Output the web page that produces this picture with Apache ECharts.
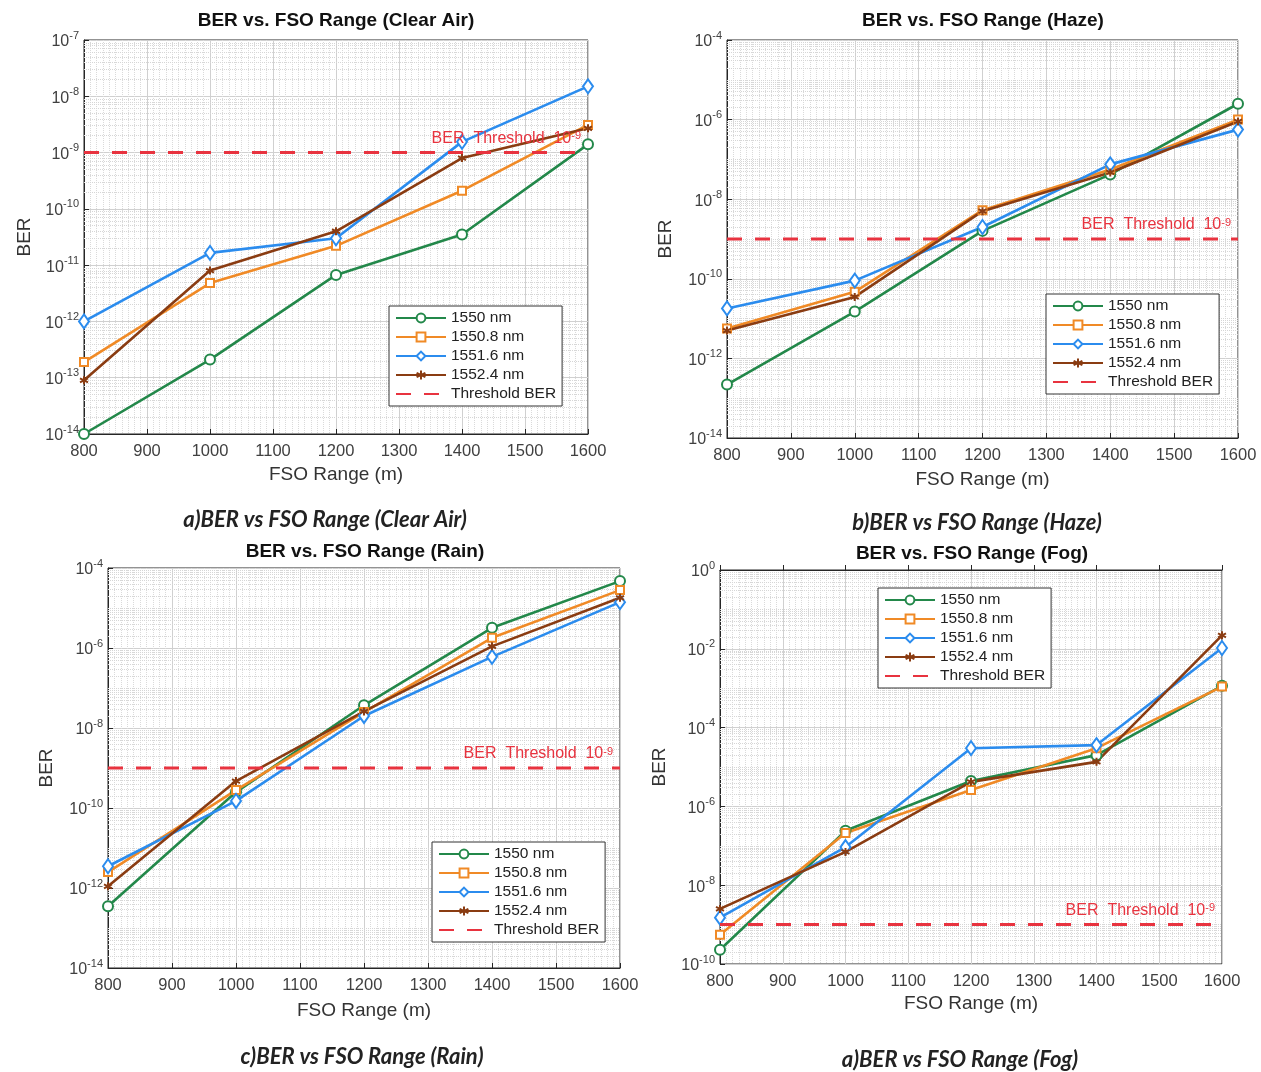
<!DOCTYPE html>
<html>
<head>
<meta charset="utf-8">
<title>BER vs FSO Range</title>
<script src="https://cdn.jsdelivr.net/npm/echarts@6.0.0/dist/echarts.min.js"></script>
<style>
html, body { margin: 0; padding: 0; background: #fff; }
#main { width: 1261px; height: 1072px; }
</style>
</head>
<body>
<div id="main"></div>
<script>
// FSO range (m)
var ranges = [800, 1000, 1200, 1400, 1600];
var waveNames = ['1550 nm', '1550.8 nm', '1551.6 nm', '1552.4 nm'];
var thresholdName = 'Threshold BER';
var thresholdBER = 1e-9;

// BER - clear air
var clear1550 = [1e-14, 2.1e-13, 6.7e-12, 3.5e-11, 1.4e-9];
var clear15508 = [1.9e-13, 4.8e-12, 2.2e-11, 2.1e-10, 3.1e-9];
var clear15516 = [1.0e-12, 1.65e-11, 3.0e-11, 1.55e-9, 1.5e-8];
var clear15524 = [9e-14, 8e-12, 4e-11, 8e-10, 2.7e-9];

// haze
var haze1550 = [2.2e-13, 1.5e-11, 1.6e-9, 4.2e-8, 2.5e-6];
var haze15508 = [5.6e-12, 4.7e-11, 5.3e-9, 5.6e-8, 1e-6];
var haze15516 = [1.8e-11, 9e-11, 2e-9, 7.5e-8, 5.6e-7];
var haze15524 = [5e-12, 3.5e-11, 5e-9, 4.7e-8, 9e-7];

// rain
var rain1550 = [3.5e-13, 2.5e-10, 3.7e-8, 3.2e-6, 4.7e-5];
var rain15508 = [2.5e-12, 2.8e-10, 2.5e-8, 1.8e-6, 2.8e-5];
var rain15516 = [3.5e-12, 1.5e-10, 2e-8, 6e-7, 1.4e-5];
var rain15524 = [1.1e-12, 4.7e-10, 2.6e-8, 1.1e-6, 1.8e-5];

// fog
var fog1550 = [2.3e-10, 2.4e-7, 4.4e-6, 2e-5, 1.15e-3];
var fog15508 = [5.5e-10, 2.1e-7, 2.6e-6, 3e-5, 1.1e-3];
var fog15516 = [1.5e-9, 9.3e-8, 3e-5, 3.6e-5, 1.05e-2];
var fog15524 = [2.5e-9, 7e-8, 4.2e-6, 1.35e-5, 2.2e-2];

// 样式
var colors = ['#23884a', '#f08a26', '#2b8cee', '#8a3c12'];
var red = '#e8333f';
var symbols = ['emptyCircle', 'emptyRect', 'emptyDiamond', 'path://M5,0L5,10M0,2.5L10,7.5M10,2.5L0,7.5'];
var symbolSizes = [10, 8, [10, 14], 8];
var font = '"Liberation Sans", Arial, Helvetica, sans-serif';

// 每个子图的布局
var panels = [
    {
        title: 'BER vs. FSO Range (Clear Air)', caption: 'a)BER vs FSO Range (Clear Air)',
        values: [clear1550, clear15508, clear15516, clear15524],
        yMin: -14, yMax: -7, yStep: 1,
        grid: { left: 84, top: 40, width: 504, height: 394 },
        titleAt: [336, 22], captionAt: [325, 520], legendAt: [389, 306], gapX: 31, gapY: 50
    },
    {
        title: 'BER vs. FSO Range (Haze)', caption: 'b)BER vs FSO Range (Haze)',
        values: [haze1550, haze15508, haze15516, haze15524],
        yMin: -14, yMax: -4, yStep: 2,
        grid: { left: 727, top: 40, width: 511, height: 398 },
        titleAt: [983, 22], captionAt: [977, 523], legendAt: [1046, 294], gapX: 32, gapY: 52
    },
    {
        title: 'BER vs. FSO Range (Rain)', caption: 'c)BER vs FSO Range (Rain)',
        values: [rain1550, rain15508, rain15516, rain15524],
        yMin: -14, yMax: -4, yStep: 2,
        grid: { left: 108, top: 568, width: 512, height: 400 },
        titleAt: [365, 553], captionAt: [362, 1057], legendAt: [432, 842], gapX: 33, gapY: 52
    },
    {
        title: 'BER vs. FSO Range (Fog)', caption: 'a)BER vs FSO Range (Fog)',
        values: [fog1550, fog15508, fog15516, fog15524],
        yMin: -10, yMax: 0, yStep: 2,
        grid: { left: 720, top: 570, width: 502, height: 394 },
        titleAt: [972, 555], captionAt: [960, 1060], legendAt: [878, 588], gapX: 30, gapY: 51
    }
];

var supRich = {
    b: { fontSize: 16, lineHeight: 20, color: '#404040', fontFamily: font, verticalAlign: 'bottom' },
    s: { fontSize: 11, color: '#404040', fontFamily: font, verticalAlign: 'top' }
};

// log 网格线(2..9)
function minorLevels(p) {
    var out = [];
    for (var n = p.yMin; n < p.yMax; n++) {
        if ((n - p.yMin) % p.yStep !== 0) out.push(n);
        for (var k = 2; k <= 9; k++) out.push(n + Math.log10(k));
    }
    return out;
}

var option = {
    animation: false,
    backgroundColor: '#fff',
    title: [], grid: [], xAxis: [], yAxis: [], legend: [], series: [], graphic: []
};

panels.forEach(function (p, i) {
    option.grid.push({
        left: p.grid.left, top: p.grid.top, width: p.grid.width, height: p.grid.height,
        show: true, backgroundColor: '#fff', borderColor: '#262626', borderWidth: 1
    });
    option.xAxis.push({
        type: 'value', gridIndex: i, min: 800, max: 1600, interval: 100,
        name: 'FSO Range (m)', nameLocation: 'middle', nameGap: p.gapX,
        nameTextStyle: { fontSize: 19, color: '#333', fontFamily: font },
        axisLine: { show: true, lineStyle: { color: '#262626' } },
        axisTick: { inside: true, length: 5, lineStyle: { color: '#262626' } },
        axisLabel: {
            fontSize: 16.5, color: '#404040', margin: 9, fontFamily: font,
            formatter: function (v) { return String(v); }
        },
        splitLine: { show: true, lineStyle: { color: '#d0d0d0', width: 1 } },
        minorTick: { show: false, splitNumber: 10 },
        minorSplitLine: { show: true, lineStyle: { color: '#dadada', type: 'dotted', width: 1 } }
    });
    option.yAxis.push({
        type: 'value', gridIndex: i, min: p.yMin, max: p.yMax, interval: p.yStep,
        name: 'BER', nameLocation: 'middle', nameGap: p.gapY,
        nameTextStyle: { fontSize: 19, color: '#333', fontFamily: font },
        axisLine: { show: true, lineStyle: { color: '#262626' } },
        axisTick: { inside: true, length: 5, lineStyle: { color: '#262626' } },
        axisLabel: {
            margin: 5, rich: supRich,
            formatter: function (v) { return '{b|10}{s|' + v + '}'; }
        },
        splitLine: { show: true, lineStyle: { color: '#d0d0d0', width: 1 } }
    });
    option.title.push({
        text: p.title, left: p.titleAt[0], top: p.titleAt[1] - 11, textAlign: 'center', padding: 0,
        textStyle: { fontSize: 19, fontWeight: 'bold', color: '#111', fontFamily: font }
    });
    option.graphic.push({
        type: 'text', x: p.captionAt[0], y: p.captionAt[1],
        style: {
            text: p.caption, align: 'center', verticalAlign: 'middle', fill: '#222',
            fontSize: 22, fontWeight: 'bold', fontStyle: 'italic', fontFamily: 'Lato, "Open Sans", sans-serif'
        }
    });
    option.legend.push({
        // 阈值线图例不要圆点
        data: waveNames.concat([{ name: thresholdName, itemStyle: { opacity: 0 } }]),
        orient: 'vertical',
        left: p.legendAt[0], top: p.legendAt[1], z: 10,
        itemWidth: 50, itemHeight: 11, itemGap: 3, selectedMode: false,
        backgroundColor: '#fff', borderColor: '#333', borderWidth: 1, borderRadius: 0,
        padding: [4, 6, 4, 6],
        textStyle: { fontSize: 15.5, color: '#222', fontFamily: font }
    });

    // 次网格
    option.series.push({
        type: 'line', xAxisIndex: i, yAxisIndex: i, data: [], silent: true, z: 1,
        markLine: {
            silent: true, symbol: 'none', z: 1, animation: false,
            label: { show: false },
            lineStyle: { color: '#d6d6d6', type: 'dotted', width: 1 },
            data: minorLevels(p).map(function (v) { return { yAxis: v }; })
        }
    });

    p.values.forEach(function (vals, j) {
        option.series.push({
            type: 'line', name: waveNames[j], xAxisIndex: i, yAxisIndex: i, z: 3,
            data: ranges.map(function (x, k) { return [x, Math.log10(vals[k])]; }),
            symbol: symbols[j], symbolSize: symbolSizes[j],
            lineStyle: { color: colors[j], width: 2.6 },
            itemStyle: { color: colors[j], borderColor: colors[j], borderWidth: 2 }
        });
    });

    var th = Math.log10(thresholdBER);
    option.series.push({
        type: 'line', name: thresholdName, xAxisIndex: i, yAxisIndex: i, z: 4,
        symbol: 'none',
        lineStyle: { color: red, width: 3, type: [15, 13] },
        itemStyle: { color: red },
        data: [[ranges[0], th], [ranges[ranges.length - 1], th]],
        // 只用来放文字
        markLine: {
            silent: true, symbol: 'none', z: 6, animation: false,
            lineStyle: { color: 'rgba(0,0,0,0)', width: 0 },
            label: {
                show: true, position: 'insideEndTop', distance: [7, 6],
                formatter: 'BER  Threshold  10{s|-9}',
                color: red, fontSize: 16, fontFamily: font,
                rich: { s: { fontSize: 11, color: red, fontFamily: font, verticalAlign: 'top' } }
            },
            data: [{ yAxis: th }]
        }
    });
});

var myChart = echarts.init(document.getElementById('main'));
myChart.setOption(option);
</script>
</body>
</html>
